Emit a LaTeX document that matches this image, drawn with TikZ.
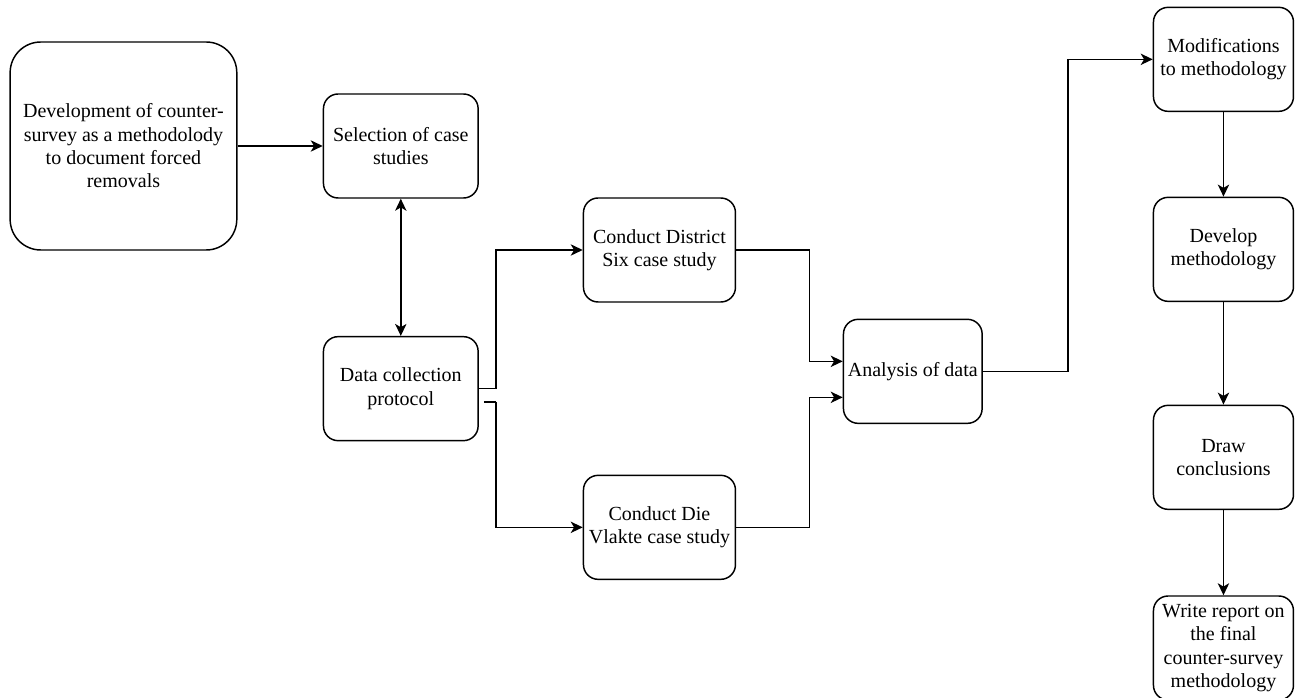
\documentclass[tikz,border=0pt]{standalone}
\usepackage{fontspec}
\setmainfont{Liberation Serif}
\usetikzlibrary{arrows.meta, positioning}

\begin{document}
\begin{tikzpicture}[
    ->,
    >={Stealth[length=9pt, width=8.5pt, inset=2.5pt]},
    line width=1.1pt,
    on grid,
    box/.style={draw, rounded corners=11pt, align=center,
                font=\fontsize{15}{17.5}\selectfont,
                minimum width=105pt, minimum height=78pt, inner sep=1pt},
    bigbox/.style={box, rounded corners=23pt,
                minimum width=170pt, minimum height=156pt},
]

    \useasboundingbox (-92.6pt,-414pt) rectangle (885.4pt,109.5pt);

    \node[bigbox]                                  (dev)  {Development of counter-\\survey as a methodolody\\to document forced\\removals};
    \node[box, minimum width=116pt,
          right =208pt of dev]                     (sel)  {Selection of case\\studies};
    \node[box, minimum width=116pt,
          below =182pt of sel]                     (prot) {Data collection\\protocol};
    \node[box, minimum width=114pt,
          above right=104pt and 194pt of prot]     (six)  {Conduct District\\Six case study};
    \node[box, minimum width=114pt,
          below =208pt of six]                     (vla)  {Conduct Die\\Vlakte case study};
    \node[box, minimum width=104pt,
          below right=91pt and 190pt of six]       (ana)  {Analysis of data};
    \node[box, above right=234pt and 233pt of ana] (mod)  {Modifications\\to methodology};
    \node[box, below =142.5pt of mod]              (devm) {Develop\\methodology};
    \node[box, below =156pt of devm]               (draw) {Draw\\conclusions};
    \node[box, below =143pt of draw]               (rep)  {Write report on\\the final\\counter-survey\\methodology};

    \draw (dev.east) -- (dev.east -| sel.west);
    \draw[<->] (sel) -- (prot);
    \draw (prot.east) -- ([xshift=12.75pt]prot.east) |- (six.west);
    \draw[-] ([xshift=3.75pt, yshift=-10pt]prot.east) -- ([xshift=12.75pt, yshift=-10pt]prot.east)
        coordinate (split);
    \draw (split) |- (vla.west);
    \draw (six.east) -- ([xshift=55pt]six.east) |- ([yshift=7.5pt]ana.west);
    \draw (vla.east) -- ([xshift=55pt]vla.east) |- ([yshift=-19.5pt]ana.west);
    \draw (ana.east) -- ([xshift=64pt]ana.east) |- (mod.west);
    \draw (mod) -- (devm);
    \draw (devm) -- (draw);
    \draw (draw) -- (rep);
\end{tikzpicture}
\end{document}
